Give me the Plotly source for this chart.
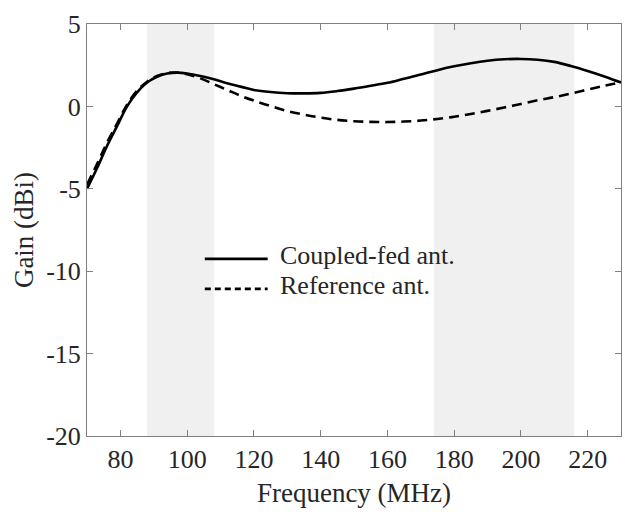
import plotly.graph_objects as go

freq = [70, 73, 76, 79, 82, 85, 88, 91, 94, 97, 100, 104, 108, 112, 116, 120, 125, 130, 135,
        140, 145, 150, 155, 160, 165, 170, 175, 180, 185, 190, 195, 200, 205, 210, 215, 220, 225, 230]
gain_coupled = [-5.0, -3.75, -2.4, -1.2, 0.0, 0.85, 1.45, 1.8, 2.0, 2.05, 2.0, 1.85, 1.65, 1.4, 1.2,
                1.0, 0.87, 0.8, 0.79, 0.82, 0.93, 1.08, 1.25, 1.43, 1.68, 1.93, 2.2, 2.43, 2.62, 2.77,
                2.86, 2.88, 2.83, 2.7, 2.45, 2.15, 1.82, 1.45]
gain_reference = [-4.75, -3.5, -2.2, -1.05, 0.1, 0.95, 1.5, 1.85, 2.02, 2.05, 1.95, 1.7, 1.35, 1.0,
                  0.65, 0.35, 0.02, -0.28, -0.5, -0.68, -0.82, -0.9, -0.94, -0.95, -0.92, -0.86,
                  -0.76, -0.63, -0.46, -0.27, -0.07, 0.15, 0.37, 0.56, 0.78, 1.02, 1.25, 1.47]
series_names = ["Coupled-fed ant.", "Reference ant."]
bands = [(88, 108), (174, 216)]
x_ticks = [80, 100, 120, 140, 160, 180, 200, 220]
y_ticks = [5, 0, -5, -10, -15, -20]
y_tick_text = ["5", "0", "-5", "-10", "-15", "-20"]

FONT = "Liberation Serif"
TXT = "#262626"
AX = "#808080"

fig = go.Figure()
fig.add_trace(go.Scatter(x=freq, y=gain_coupled, mode="lines", name=series_names[0],
                         line=dict(color="black", width=2.6, shape="spline")))
fig.add_trace(go.Scatter(x=freq, y=gain_reference, mode="lines", name=series_names[1],
                         line=dict(color="black", width=2.6, dash="10px,6px", shape="spline")))

for lo, hi in bands:
    fig.add_shape(type="rect", xref="x", yref="paper", x0=lo, x1=hi, y0=0, y1=1,
                  fillcolor="#f0f0f0", line=dict(width=0), layer="below")

# compact legend drawn in paper coordinates: (line y, text y, dash)
legend_rows = [(0.430, 0.439, "solid"), (0.357, 0.366, "6px,4px")]
for (yline, ytext, dash), name in zip(legend_rows, series_names):
    fig.add_shape(type="line", xref="paper", yref="paper", x0=0.2206, x1=0.3383, y0=yline, y1=yline,
                  line=dict(color="black", width=2.6, dash=dash))
    fig.add_annotation(xref="paper", yref="paper", x=0.358, y=ytext, text=name, showarrow=False,
                       xanchor="left", yanchor="middle",
                       font=dict(family=FONT, size=26, color=TXT))

axis_common = dict(showline=True, linecolor=AX, linewidth=1, mirror="ticks", ticks="inside",
                   ticklen=6, tickcolor=AX, showgrid=False, zeroline=False,
                   tickfont=dict(family=FONT, size=26, color=TXT))

fig.update_layout(
    width=632, height=512,
    margin=dict(l=87, r=10, t=17, b=73),
    paper_bgcolor="white", plot_bgcolor="white",
    font=dict(family=FONT, size=26, color=TXT),
    xaxis=dict(range=[70, 230], tickvals=x_ticks,
               title=dict(text="Frequency (MHz)", font=dict(family=FONT, size=27, color=TXT), standoff=9),
               **axis_common),
    yaxis=dict(range=[-20, 5], tickvals=y_ticks, ticktext=y_tick_text,
               title=dict(text="Gain (dBi)", font=dict(family=FONT, size=27, color=TXT), standoff=4),
               **axis_common),
    showlegend=False,
)

fig.write_html("out.html")
